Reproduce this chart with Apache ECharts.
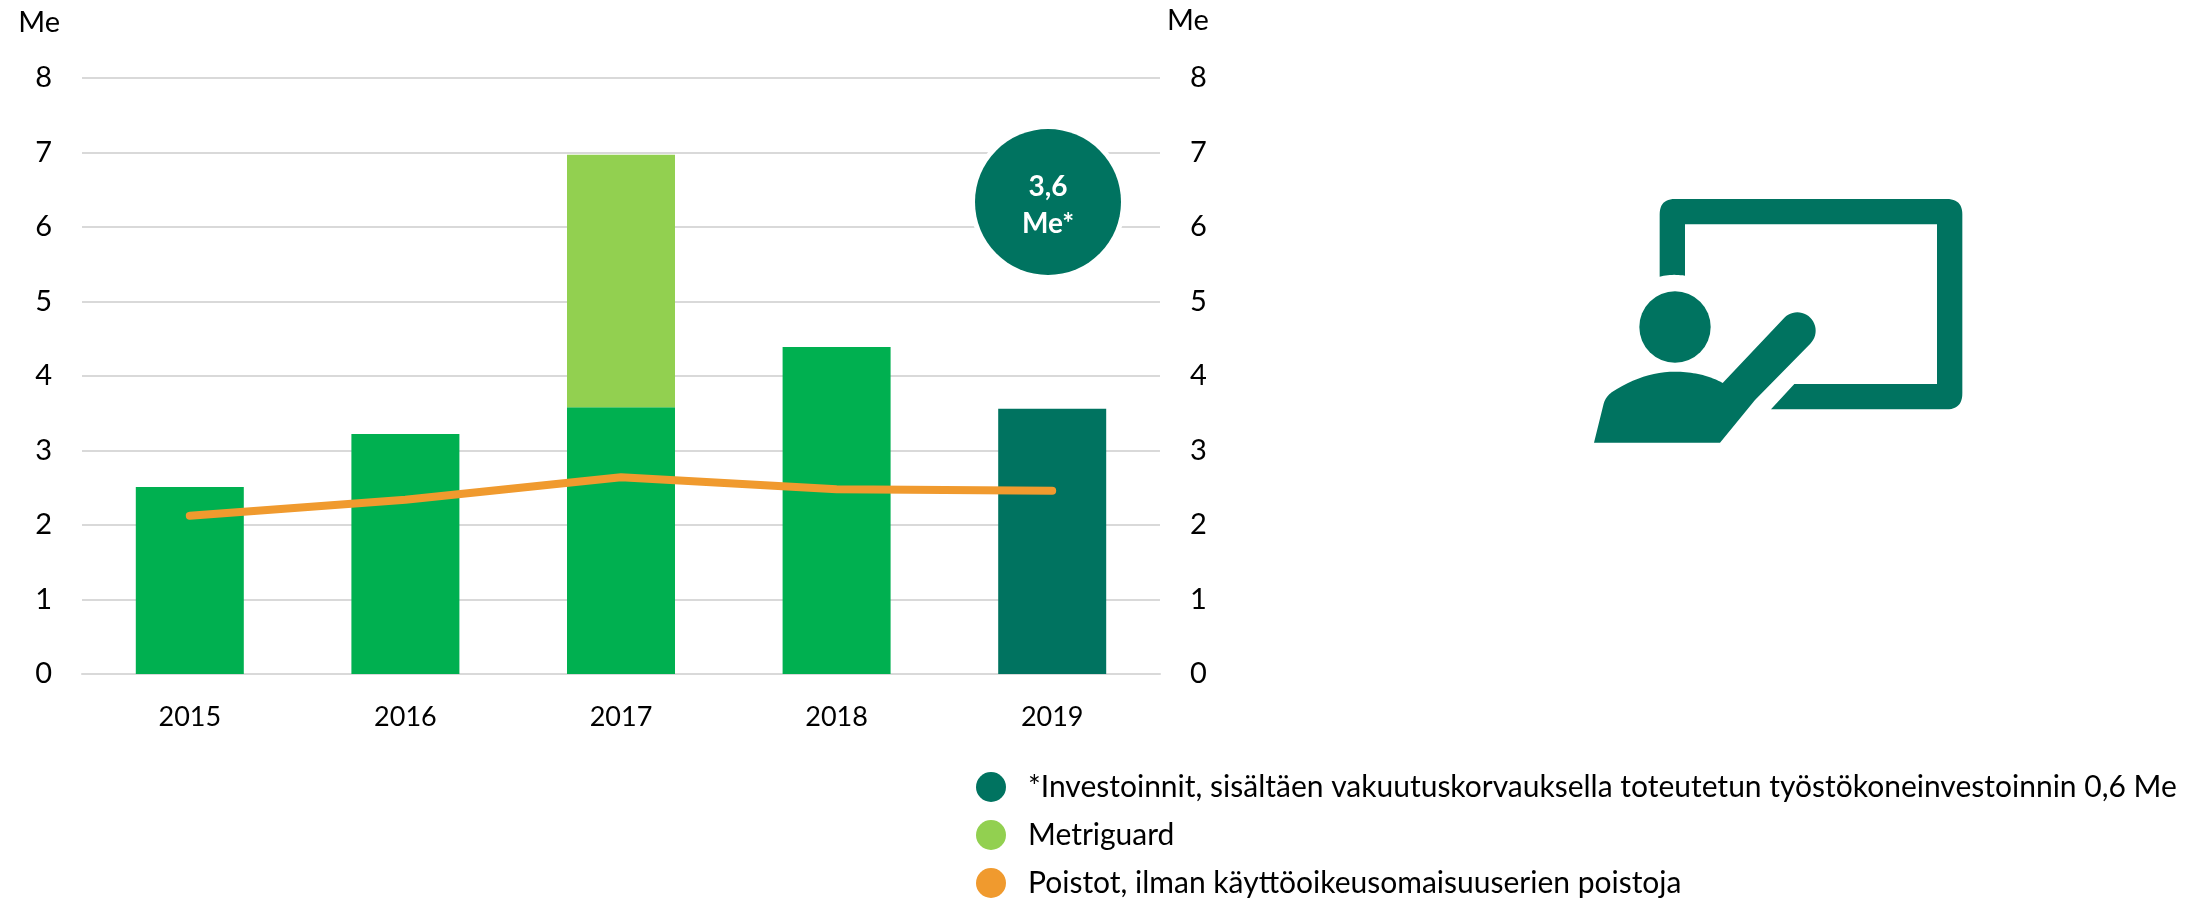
<!DOCTYPE html>
<html><head><meta charset="utf-8">
<style>html,body{margin:0;padding:0;background:#fff}#c{width:2201px;height:901px}</style>
<script src="https://cdn.jsdelivr.net/npm/echarts@6/dist/echarts.min.js"></script>
</head><body><div id="c"></div>
<script>
const years = ['2015','2016','2017','2018','2019'];
const investments = [2.51, 3.22, 3.58, 4.39, 3.56];
const metriguard = [null, null, 3.39, null, null];
const depreciation = [2.125, 2.34, 2.64, 2.48, 2.46];
const yTicks = {min:0, max:8, interval:1};
const unit = 'Me';
const names = ['*Investoinnit, sisältäen vakuutuskorvauksella toteutetun työstökoneinvestoinnin 0,6 Me','Metriguard','Poistot, ilman käyttöoikeusomaisuuserien poistoja'];
const bubbleText = '3,6\nMe*';
const DARK='#007360', GREEN='#00B050', LIGHT='#92D050', ORANGE='#F09A2E', GRID='#D9D9D9';
const FONT='Lato, Carlito, sans-serif', FS=27;

// icon outline helper: [x,y] = line, [cx,cy,x,y] = quadratic curve, [cx,cy,r,a0,a1] = arc (degrees)
function outline(segs){
  const pts=[]; let p=null;
  segs.forEach(s=>{
    if(s.length===2){pts.push(s);p=s;}
    else if(s.length===4){for(let i=1;i<=12;i++){const t=i/12,u=1-t;
      pts.push([u*u*p[0]+2*u*t*s[0]+t*t*s[2],u*u*p[1]+2*u*t*s[1]+t*t*s[3]]);}
      p=[s[2],s[3]];}
    else{for(let i=0;i<=24;i++){const a=(s[3]+(s[4]-s[3])*i/24)*Math.PI/180;
      p=[s[0]+s[2]*Math.cos(a),s[1]+s[2]*Math.sin(a)];pts.push(p);}}
  });
  return pts;
}
const boardShape = outline([[299,290],[299,103],[299,57,345,57],[1160,57],[1207,57,1207,103],[1207,640],[1207,688,1160,688],[633,688],[703,612],[1131,612],[1131,133],[375,133],[375,287],[335,281,299,290]]);
const bodyShape = outline([[102,788],[130,675],[135,652,155,637],[250,575,345,575],[395,576,435,587],[465,596,488,609],[712,452,55,225,405],[585,660],[480,788]]);

const chart = echarts.init(document.getElementById('c'), null, {renderer:'canvas'});
const yAxisBase = {type:'value', min:yTicks.min, max:yTicks.max, interval:yTicks.interval,
  axisLine:{show:false}, axisTick:{show:false},
  axisLabel:{fontFamily:FONT,fontSize:29,color:'#000',margin:30}};
chart.setOption({
  animation:false, backgroundColor:'#fff',
  grid:{left:82,right:1041,top:78,bottom:227},
  legend:{orient:'vertical',left:976,top:772,height:200,padding:0,icon:'circle',itemWidth:30,itemHeight:30,itemGap:18,
    selectedMode:false,
    textStyle:{fontFamily:FONT,fontSize:30,color:'#000',padding:[0,0,0,17]},
    data:names},
  xAxis:{type:'category',data:years,
    axisLine:{lineStyle:{color:GRID,width:2}},axisTick:{show:false},
    axisLabel:{fontFamily:FONT,fontSize:FS,color:'#000',margin:30}},
  yAxis:[
    Object.assign({},yAxisBase,{position:'left',name:unit,nameLocation:'end',nameGap:41,
      nameTextStyle:{fontFamily:FONT,fontSize:29,color:'#000',align:'right',padding:[0,22,0,0]},
      splitLine:{lineStyle:{color:GRID,width:2}}}),
    Object.assign({},yAxisBase,{position:'right',name:unit,nameLocation:'end',nameGap:43,
      nameTextStyle:{fontFamily:FONT,fontSize:29,color:'#000',align:'left',padding:[0,0,0,7]},
      splitLine:{show:false}})
  ],
  series:[
    {name:names[0],type:'bar',stack:'t',barWidth:108,itemStyle:{color:DARK},
      data:investments.map((v,i)=>i<4?{value:v,itemStyle:{color:GREEN}}:v)},
    {name:names[1],type:'bar',stack:'t',barWidth:108,itemStyle:{color:LIGHT},data:metriguard},
    {name:names[2],type:'line',data:depreciation,symbol:'none',z:5,
      lineStyle:{color:ORANGE,width:8,cap:'round',join:'round'},itemStyle:{color:ORANGE}}
  ],
  graphic:[
    {type:'circle',shape:{cx:1048,cy:202,r:78},z:10,style:{fill:'#fff'}},
    {type:'circle',shape:{cx:1048,cy:202,r:73},z:11,style:{fill:DARK}},
    {type:'text',x:1048,y:205,z:12,style:{text:bubbleText,fill:'#fff',fontFamily:FONT,fontWeight:'bold',fontSize:28,lineHeight:37,align:'center',verticalAlign:'middle'}},
    {type:'group',x:1560,y:180,scaleX:1/3,scaleY:1/3,z:10,children:[
      {type:'polygon',shape:{points:boardShape},style:{fill:DARK}},
      {type:'circle',shape:{cx:345,cy:441,r:107},style:{fill:DARK}},
      {type:'polygon',shape:{points:bodyShape},style:{fill:DARK}}
    ]}
  ]
});
</script></body></html>
